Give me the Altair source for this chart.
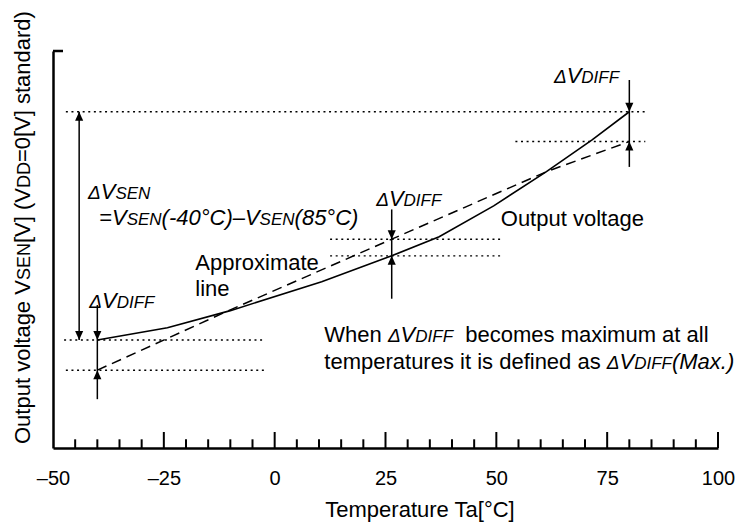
import altair as alt
import pandas as pd

FONT = "Liberation Sans"

# ---------------- data ----------------
# Output voltage curve (solid)
out_T = [-40, -24.2, -10.0, 10.6, 26.4, 37.1, 49.4, 61.3, 71.6, 80]
out_V = [27.2, 30.3, 34.6, 41.9, 48.4, 53.2, 61.0, 69.6, 77.6, 84.7]
# Approximate line (dashed)
apx_T = [-40, -10, 26.4, 61.3, 80]
apx_V = [19.6, 34.8, 52.6, 69.6, 77.2]

# dotted horizontal reference lines
ref_T1 = [-47.1, -47.5, -47.1, 12.5, 12.5, 54.3]
ref_T2 = [83.6, -2.1, -2.1, 51.6, 51.6, 83.6]
ref_V = [84.7, 27.2, 19.6, 52.6, 48.4, 77.2]

# vertical arrow shafts
arr_T = [-44.1, -40, 26.4, 80]
arr_V1 = [27.2, 12.3, 37.6, 70.8]
arr_V2 = [84.7, 36.0, 60.1, 92.7]

# arrow heads (tip positions)
head_T = [-44.1, -44.1, -40, -40, 26.4, 26.4, 80, 80]
head_V = [84.7, 27.2, 27.2, 19.6, 52.6, 48.4, 84.7, 77.2]
head_dir = ["up", "down", "down", "up", "down", "up", "down", "up"]

# axis ticks
x_labels = [-50, -25, 0, 25, 50, 75, 100]
major_ticks = [-25, 0, 25, 50, 75, 100]
minor_ticks = [t for t in range(-45, 100, 5) if t % 25 != 0]

# annotations: anchor (left, baseline) and rich-text parts
DELTA = [("Δ", "d"), ("V", "i"), ("DIFF", "s")]
ann_T = [-42.1, -39.6, -17.9, -17.9, 22.9, -41.8, 63.0, 51.0, 11.2, 11.2]
ann_V = [62.7, 56.2, 44.8, 38.3, 61.0, 35.3, 91.9, 55.9, 26.7, 19.9]
ann_parts = [
    [("Δ", "d"), ("V", "i"), ("SEN", "s")],
    [("=", "i"), ("V", "i"), ("SEN", "s"), ("(-40°C)–", "i"), ("V", "i"), ("SEN", "s"), ("(85°C)", "i")],
    [("Approximate", "r")],
    [("line", "r")],
    DELTA,
    DELTA,
    DELTA,
    [("Output voltage", "r")],
    [("When ", "r")] + DELTA + [("  becomes maximum at all", "r")],
    [("temperatures it is defined as ", "r")] + DELTA + [("(Max.)", "i")],
]

y_title_parts = [("Output voltage V", "r"), ("SEN", "c"), ("[V] (V", "r"), ("DD", "c"), ("=0[V] standard)", "r")]
x_title = "Temperature Ta[°C]"

# ---------------- helpers ----------------
W = {' ': 278, '(': 333, ')': 333, '-': 333, '.': 278, '=': 584, 'A': 667, 'C': 722, 'D': 722,
     'E': 667, 'F': 611, 'I': 278, 'M': 833, 'N': 722, 'O': 778, 'S': 667, 'T': 611, 'V': 667,
     'W': 944, '[': 278, ']': 278, 'a': 556, 'b': 556, 'c': 500, 'd': 556, 'e': 556, 'f': 278,
     'g': 556, 'h': 556, 'i': 222, 'l': 222, 'm': 833, 'n': 556, 'o': 556, 'p': 556, 'r': 333,
     's': 500, 't': 278, 'u': 556, 'v': 500, 'x': 500, '°': 400, '–': 556, 'Δ': 668}
for d in "0123456789":
    W[d] = 556


def tw(s, size):
    return sum(W.get(c, 556) for c in s) * size / 1000.0


SIZES = {"r": 22, "i": 22, "s": 17, "d": 19, "c": 18}
STYLES = {"r": "normal", "i": "italic", "s": "italic", "d": "italic", "c": "normal"}

PW, PH = 665, 397

xs = alt.Scale(domain=[-50, 100], nice=False, zero=False)
ys = alt.Scale(domain=[0, 100], nice=False, zero=False)
xaxis = alt.Axis(values=x_labels, ticks=False, tickSize=0, grid=False, domain=True,
                 domainColor="black", domainWidth=2.5, labelFont=FONT, labelFontSize=20,
                 labelColor="black", labelPadding=20, labelFlush=False, labelOverlap=False,
                 labelExpr="datum.value < 0 ? '–' + (-datum.value) : datum.label", title=None)
yaxis = alt.Axis(labels=False, ticks=False, tickSize=0, grid=False, domain=True,
                 domainColor="black", domainWidth=2.5, title=None)


def X(f):
    return alt.X(f, type="quantitative", scale=xs, axis=xaxis)


def Y(f):
    return alt.Y(f, type="quantitative", scale=ys, axis=yaxis)


layers = []

# output voltage (solid)
df_out = pd.DataFrame({"T": out_T, "V": out_V})
layers.append(alt.Chart(df_out).mark_line(color="black", strokeWidth=1.6).encode(x=X("T"), y=Y("V")))

# approximate line (dashed)
df_apx = pd.DataFrame({"T": apx_T, "V": apx_V})
layers.append(alt.Chart(df_apx).mark_line(color="black", strokeWidth=1.5, strokeDash=[10, 6]).encode(x=X("T"), y=Y("V")))

# dotted reference lines
df_ref = pd.DataFrame({"T1": ref_T1, "T2": ref_T2, "V": ref_V})
layers.append(alt.Chart(df_ref).mark_rule(color="black", strokeWidth=1.4, strokeDash=[2, 3.6]).encode(
    x=X("T1"), x2=alt.X2("T2"), y=Y("V")))

# arrow shafts
df_arr = pd.DataFrame({"T": arr_T, "V1": arr_V1, "V2": arr_V2})
layers.append(alt.Chart(df_arr).mark_rule(color="black", strokeWidth=1.5).encode(
    x=X("T"), y=Y("V1"), y2=alt.Y2("V2")))

# arrow heads
df_head = pd.DataFrame({"T": head_T, "V": head_V, "dir": head_dir})
SHAPE = {"down": "M-0.45,-1L0.45,-1L0,0Z", "up": "M-0.45,1L0.45,1L0,0Z"}
for d, shp in SHAPE.items():
    layers.append(alt.Chart(df_head[df_head["dir"] == d]).mark_point(
        shape=shp, size=324, filled=True, color="black", opacity=1, strokeWidth=0).encode(
        x=X("T"), y=Y("V")))

# axis ticks (pointing inward)
df_major = pd.DataFrame({"t": major_ticks})
df_minor = pd.DataFrame({"t": minor_ticks})
layers.append(alt.Chart(df_major).mark_rule(color="black", strokeWidth=2).encode(
    x=X("t"), y=alt.value(PH), y2=alt.value(PH - 16)))
layers.append(alt.Chart(df_minor).mark_rule(color="black", strokeWidth=2).encode(
    x=X("t"), y=alt.value(PH), y2=alt.value(PH - 8.7)))
# small stub at top of the y axis
layers.append(alt.Chart(pd.DataFrame({"a": [0]})).mark_rule(color="black", strokeWidth=2.5).encode(
    x=alt.value(0), x2=alt.value(10), y=alt.value(0)))


def place(parts):
    """yield (text, kind, offset) with leading spaces turned into offsets"""
    off = 0.0
    for txt, k in parts:
        body = txt.lstrip(" ")
        lead = tw(txt[: len(txt) - len(body)], SIZES[k])
        yield body, k, off + lead
        off += tw(txt, SIZES[k])


# annotations
for T, V, parts in zip(ann_T, ann_V, ann_parts):
    for txt, k, off in place(parts):
        layers.append(alt.Chart(pd.DataFrame({"T": [T], "V": [V], "txt": [txt]})).mark_text(
            align="left", baseline="alphabetic", font=FONT, fontSize=SIZES[k],
            fontStyle=STYLES[k], color="black", dx=off).encode(
            x=X("T"), y=Y("V"), text="txt:N"))

# y title (rotated, rich text)
for txt, k, off in place(y_title_parts):
    layers.append(alt.Chart(pd.DataFrame({"txt": [txt]})).mark_text(
        align="left", baseline="alphabetic", angle=270, font=FONT, fontSize=SIZES[k],
        fontStyle=STYLES[k], color="black", dx=off).encode(
        x=alt.value(-23), y=alt.value(393), text="txt:N"))

# x title
layers.append(alt.Chart(pd.DataFrame({"txt": [x_title]})).mark_text(
    align="center", baseline="alphabetic", font=FONT, fontSize=22, color="black").encode(
    x=alt.value(367), y=alt.value(466), text="txt:N"))

chart = alt.layer(*layers).properties(
    width=PW, height=PH,
    autosize=alt.AutoSizeParams(type="none"),
    padding={"left": 45, "top": 43, "right": 30, "bottom": 75},
).configure_view(stroke=None)

chart.save("out.html", embed_options={"renderer": "svg", "actions": False})
